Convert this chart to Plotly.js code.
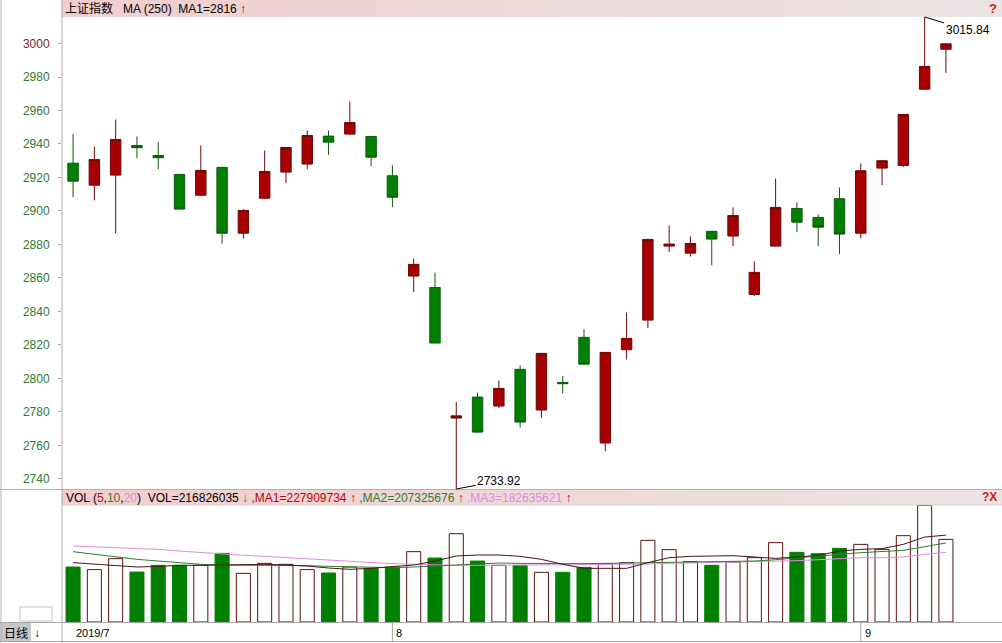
<!DOCTYPE html>
<html><head><meta charset="utf-8">
<script src="https://cdn.plot.ly/plotly-3.0.1.min.js"></script>
<style>html,body{margin:0;padding:0;background:#fff;overflow:hidden}#chart{width:1002px;height:643px}</style>
</head><body><div id="chart"></div>
<script>
// ---------- data ----------
const dates = ["2019-07-11","2019-07-12","2019-07-15","2019-07-16","2019-07-17","2019-07-18","2019-07-19","2019-07-22","2019-07-23","2019-07-24","2019-07-25","2019-07-26","2019-07-29","2019-07-30","2019-07-31",
"2019-08-01","2019-08-02","2019-08-05","2019-08-06","2019-08-07","2019-08-08","2019-08-09","2019-08-12","2019-08-13","2019-08-14","2019-08-15","2019-08-16","2019-08-19","2019-08-20","2019-08-21","2019-08-22","2019-08-23","2019-08-26","2019-08-27","2019-08-28","2019-08-29","2019-08-30",
"2019-09-02","2019-09-03","2019-09-04","2019-09-05","2019-09-06"];
const openP  = [2928.5,2915.4,2921.4,2939.1,2933.1,2921.8,2909.4,2926.0,2886.7,2907.6,2923.2,2928.0,2944.7,2945.9,2944.5,
2921.0,2861.1,2854.3,2776.3,2788.8,2783.5,2805.4,2781.1,2797.6,2824.5,2761.4,2817.1,2834.8,2879.0,2874.8,2887.8,2885.0,2850.1,2879.0,2901.5,2896.1,2907.3,
2886.7,2925.6,2927.2,2972.7,2996.6];
const highP  = [2946.1,2938.5,2954.6,2944.5,2941.3,2922.0,2939.1,2926.2,2901.1,2936.1,2938.2,2948.1,2948.1,2965.4,2944.8,
2927.2,2871.5,2863.1,2785.9,2791.5,2798.8,2807.8,2815.2,2801.4,2829.3,2815.8,2839.4,2883.3,2891.3,2884.8,2888.0,2902.1,2869.9,2919.4,2905.1,2897.9,2914.0,
2928.4,2930.2,2957.8,3015.84,3000.0];
const lowP   = [2908.2,2906.3,2886.7,2931.5,2925.0,2901.0,2909.0,2880.4,2883.4,2907.2,2916.6,2925.0,2933.5,2945.5,2926.7,
2902.3,2851.5,2821.0,2733.92,2767.6,2782.3,2770.6,2776.5,2790.9,2807.8,2756.6,2811.3,2830.0,2875.4,2872.8,2867.5,2879.0,2849.1,2878.8,2887.3,2879.0,2874.2,
2883.6,2915.4,2926.2,2972.5,2982.5];
const closeP = [2917.8,2930.7,2942.7,2937.8,2931.8,2901.1,2924.2,2886.7,2900.3,2923.6,2937.9,2945.1,2941.1,2952.8,2932.1,
2908.2,2868.1,2821.1,2777.6,2767.9,2794.0,2773.9,2814.9,2796.8,2808.5,2815.5,2823.9,2883.0,2880.2,2880.6,2883.2,2897.3,2863.3,2902.1,2893.3,2890.3,2886.2,
2924.0,2930.0,2957.6,2986.3,2999.8];
const volume = [144200000,137400000,166200000,131100000,148700000,148700000,148700000,180100000,127700000,153900000,151300000,137400000,128500000,144200000,140800000,
144200000,184600000,167800000,231800000,159900000,148700000,148700000,130300000,130300000,143400000,153100000,155700000,214200000,189800000,158400000,148700000,157300000,168900000,208200000,182800000,179300000,193200000,
203700000,190600000,226500000,306000000,216826035];
const volMA5 = [155700000,151300000,146900000,144300000,146000000,148700000,148700000,149500000,149500000,151300000,149500000,146900000,141700000,138200000,140800000,
144300000,149500000,160000000,173100000,175800000,175800000,172300000,164400000,151300000,140800000,140800000,140800000,155700000,168800000,172300000,172300000,174000000,170500000,167000000,170500000,174900000,186200000,
190600000,192400000,203700000,222900000,227909734];
const volMA10 = [184500000,177500000,170500000,164400000,160000000,155700000,151300000,149500000,149500000,149500000,148700000,147800000,146000000,144300000,142600000,
142600000,144300000,146900000,151300000,153900000,154800000,153900000,153000000,153000000,153000000,153900000,154800000,155700000,157400000,158300000,158300000,158300000,160000000,163500000,168800000,173100000,177500000,
181900000,184500000,188000000,197600000,207325676];
const volMA20 = [199400000,197600000,195000000,193200000,190600000,186200000,181900000,177500000,174900000,172300000,168800000,165300000,161800000,158300000,155700000,
153000000,151300000,149500000,148700000,148700000,148700000,148700000,149500000,150400000,150400000,151300000,151300000,152200000,153900000,154800000,155700000,156500000,157400000,159200000,160900000,163500000,166200000,
168800000,168800000,170500000,177500000,182635621];
const priceTicks = [2740,2760,2780,2800,2820,2840,2860,2880,2900,2920,2940,2960,2980,3000];
const indexName = "上证指数";
const priceMAText = "MA (250)\u00a0\u00a0MA1=2816";

// ---------- geometry helpers ----------
const W=1002,H=643,L=62,R=2,T=17,B=21;
const pw=W-L-R, ph=H-T-B;
const fx = p => (p-L)/pw;
const fy = p => (H-B-p)/ph;
const FONT = '"Liberation Sans", Arial, "Noto Sans CJK SC", sans-serif';

const RED='#a80000', REDLINE='#6e0808', GREEN='#008000', GREENLINE='#0e5a0e';
const isUp = closeP.map((c,i)=>c>=openP[i]);

const maxHigh = Math.max(...highP), minLow = Math.min(...lowP);
const iMax = highP.indexOf(maxHigh), iMin = lowP.indexOf(minLow);
const prevClose = closeP[closeP.length-2];

const traces = [
  {type:'candlestick', x:dates, open:openP, high:highP, low:lowP, close:closeP,
   xaxis:'x', yaxis:'y', whiskerwidth:0, hoverinfo:'skip', showlegend:false,
   increasing:{line:{color:REDLINE,width:1}, fillcolor:RED},
   decreasing:{line:{color:GREENLINE,width:1}, fillcolor:GREEN}},
  {type:'bar', x:dates, y:volume, xaxis:'x', yaxis:'y2', width:0.66, hoverinfo:'skip', showlegend:false,
   marker:{color:isUp.map(u=>u?'#ffffff':GREEN), line:{color:isUp.map(u=>u?'#5a1212':GREEN), width:1}}},
  {type:'scatter', mode:'lines', x:dates, y:volMA20, xaxis:'x', yaxis:'y2', line:{color:'#e08ae0',width:1}, hoverinfo:'skip', showlegend:false},
  {type:'scatter', mode:'lines', x:dates, y:volMA10, xaxis:'x', yaxis:'y2', line:{color:'#2f7d2f',width:1}, hoverinfo:'skip', showlegend:false},
  {type:'scatter', mode:'lines', x:dates, y:volMA5, xaxis:'x', yaxis:'y2', line:{color:'#4a1414',width:1}, hoverinfo:'skip', showlegend:false}
];

// ---------- shapes ----------
const shapes = [];
function rectPx(x0,y0,x1,y1,fill,line){
  shapes.push({type:'rect', xref:'paper', yref:'paper', x0:fx(x0), x1:fx(x1), y0:fy(y1), y1:fy(y0),
    fillcolor:fill, line:{width:line?1:0, color:line||'rgba(0,0,0,0)'}, layer:'below'});
}
function linePx(x0,y0,x1,y1,color){
  shapes.push({type:'line', xref:'paper', yref:'paper', x0:fx(x0), x1:fx(x1), y0:fy(y0), y1:fy(y1),
    line:{color:color, width:1}, layer:'above'});
}
function gradStrip(y0,y1){
  const n=30, c0=[242,205,205], c1=[235,228,228];
  for(let k=0;k<n;k++){
    const t=k/(n-1);
    const c=c0.map((v,j)=>Math.round(v+(c1[j]-v)*t));
    const xa=L+(W-L)*k/n, xb=L+(W-L)*(k+1)/n+0.6;
    rectPx(xa,y0,xb,y1,`rgb(${c[0]},${c[1]},${c[2]})`);
  }
}
gradStrip(0,17);
gradStrip(490,505);
rectPx(0,623,31,641,'#c6c6c6');
rectPx(20,607,52,621,'#ffffff','#c4c4c4');
linePx(1,0,1,643,'#b4b4b4');
linePx(62,0,62,643,'#a8a8a8');
linePx(0,489.5,1002,489.5,'#b0b0b0');
linePx(62,505,1002,505,'#d8d0d0');
linePx(0,622.5,1002,622.5,'#a8a8a8');
linePx(0,641.5,1002,641.5,'#a8a8a8');

// month separators
const monthIdx = [];
dates.forEach((d,i)=>{ if(i===0 || d.slice(0,7)!==dates[i-1].slice(0,7)) monthIdx.push(i); });
monthIdx.forEach(i=>{
  if(i>0) shapes.push({type:'line', xref:'x', yref:'paper', x0:i, x1:i, y0:fy(623), y1:fy(641), line:{color:'#a8a8a8',width:1}});
});

// ---------- annotations ----------
const ann = [];
function textPx(x,y,txt,opts){
  ann.push(Object.assign({xref:'paper', yref:'paper', x:fx(x), y:fy(y), text:txt, showarrow:false,
    xanchor:'left', yanchor:'middle', font:{family:FONT, size:12, color:'#000'}}, opts||{}));
}
textPx(63,8.5, indexName+'\u00a0\u00a0\u00a0'+priceMAText+' <span style="color:#b00000">↑</span>');
textPx(999,8,'<b>?</b>',{xanchor:'right', font:{family:FONT,size:13,color:'#d81818'}});
const fmt = v=>String(Math.round(v));
const last = volume.length-1;
textPx(64,497.5,
  'VOL (<span style="color:#a01818">5</span>,<span style="color:#2f7d2f">10</span>,<span style="color:#e08ae0">20</span>)\u00a0\u00a0VOL='+fmt(volume[last])+
  ' <span style="color:#2f7d2f">↓</span> <span style="color:#c00000">,MA1='+fmt(volMA5[last])+'</span> <span style="color:#b00000">↑</span>'+
  ' <span style="color:#2f7d2f">,MA2='+fmt(volMA10[last])+'</span> <span style="color:#b00000">↑</span>'+
  ' <span style="color:#e08ae0">,MA3='+fmt(volMA20[last])+'</span> <span style="color:#b00000">↑</span>');
textPx(999,497,'<b>?X</b>',{xanchor:'right', font:{family:FONT,size:12,color:'#d81818'}});
textPx(2,632.5,'日线',{font:{family:'"Noto Sans CJK SC", sans-serif',size:12,color:'#000'}});
textPx(32,632.5,'<b>↓</b>',{font:{family:FONT,size:12,color:'#000'}});
monthIdx.forEach((i,k)=>{
  const m = parseInt(dates[i].slice(5,7),10);
  const lbl = k===0 ? dates[i].slice(0,4)+'/'+m : String(m);
  ann.push({xref:'x', yref:'paper', x:i, y:fy(632.5), text:lbl, showarrow:false, xanchor:'left', yanchor:'middle',
    xshift: k===0?1:2, font:{family:FONT,size:11,color:'#000'}});
});
ann.push({xref:'x', yref:'y', x:dates[iMax], y:maxHigh, text:maxHigh.toFixed(2), showarrow:true, arrowhead:0, arrowwidth:1,
  arrowcolor:'#000', ax:43, ay:13, standoff:0, font:{family:FONT,size:12,color:'#000'}});
ann.push({xref:'x', yref:'y', x:dates[iMin], y:minLow, text:minLow.toFixed(2), showarrow:true, arrowhead:0, arrowwidth:1,
  arrowcolor:'#000', ax:43, ay:-8, standoff:0, font:{family:FONT,size:12,color:'#000'}});

const tickText = priceTicks.map(v=>`<span style="color:${v>prevClose?'#7a1f2b':'#2f7a2f'}">${v}</span>`);

const layout = {
  width:W, height:H, margin:{l:L,r:R,t:T,b:B,pad:0},
  paper_bgcolor:'#fff', plot_bgcolor:'#fff', showlegend:false,
  xaxis:{type:'category', range:[-0.52,43.54], anchor:'y2', showticklabels:false, showgrid:false, zeroline:false,
    showline:false, ticks:'', rangeslider:{visible:false}, fixedrange:true},
  yaxis:{domain:[fy(489),1], range:[minLow,maxHigh], tickvals:priceTicks, ticktext:tickText, ticks:'outside', ticklen:3,
    tickcolor:'#a8a8a8', showgrid:false, zeroline:false, showline:false, ticklabelstandoff:6,
    tickfont:{family:FONT,size:12,color:'#2f7a2f'}, fixedrange:true},
  yaxis2:{domain:[0,fy(505)], range:[0,3.07e8], showticklabels:false, showgrid:false, zeroline:false, ticks:'', showline:false, fixedrange:true},
  shapes:shapes, annotations:ann
};
Plotly.newPlot('chart', traces, layout, {staticPlot:true, displayModeBar:false});
</script></body></html>
